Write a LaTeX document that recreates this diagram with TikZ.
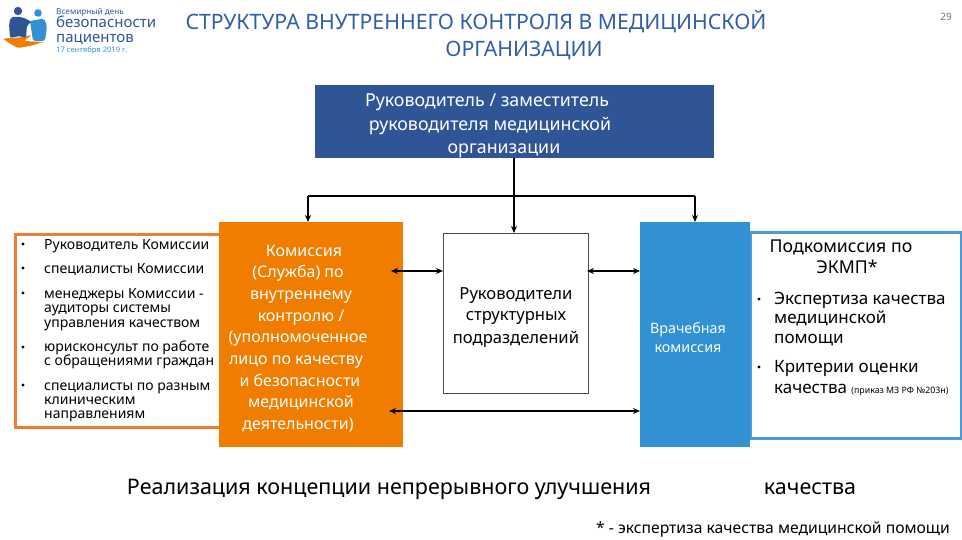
\documentclass[tikz,border=0pt]{standalone}
\usepackage{fontspec}
\setmainfont{Noto Sans}
\usetikzlibrary{arrows.meta}
\definecolor{darkblue}{HTML}{2F5597}
\definecolor{titleblue}{HTML}{2E5FA8}
\definecolor{lightblue}{HTML}{3291D2}
\definecolor{edgeblue}{HTML}{4A9BDC}
\definecolor{mainorange}{HTML}{F07D00}
\definecolor{edgeorange}{HTML}{ED7D31}
\tikzset{
    box/.style={draw=none,inner sep=0pt,anchor=north west},
    line/.style={inner sep=0pt,anchor=mid,yshift=-3pt},
    item/.style={inner sep=0pt,anchor=mid west,yshift=-3pt},
    link/.style={line width=1.2pt,-{Stealth[length=7pt,width=6pt]}},
    twolink/.style={line width=1.2pt,{Stealth[length=7pt,width=6pt]}-{Stealth[length=7pt,width=6pt]}}
}
\newcommand{\fsz}[1]{\fontsize{#1}{#1}\selectfont}
\begin{document}
\begin{tikzpicture}[x=1pt,y=-1pt]
    \useasboundingbox (0,0) rectangle (962,540);

    % logo
    \fill[mainorange,rounded corners=1.5pt] (3,38.5) -- (20,37.5) -- (32,35) -- (24,41) -- (44,42) -- (30,46) -- (18,48) -- (9,43) -- cycle;
    \fill[lightblue] (38,13) circle (3.8);
    \fill[lightblue,rounded corners=2pt] (30,21) -- (44,18.5) -- (47,26) -- (45,41) -- (33,41) -- cycle;
    \fill[darkblue] (18,11) circle (4.2);
    \fill[darkblue,rounded corners=2pt] (11,17) -- (22,17) -- (32,22) -- (27,25) -- (26,38) -- (20,36) -- (10,38) -- (9,24) -- cycle;
    \node[item,text=darkblue] (logoa) at (56,9) {\fsz{8.2}Всемирный день};
    \node[item,text=darkblue] (logob) at (56,22) {\fsz{15}безопасности};
    \node[item,text=darkblue] (logoc) at (56,37) {\fsz{15}пациентов};
    \node[item,text=lightblue] (logod) at (56,47) {\fsz{7.6}17 сентября 2019 г.};

    % title
    \node[line,text=titleblue] (titlea) at (476,24) {\fsz{21.2}СТРУКТУРА ВНУТРЕННЕГО КОНТРОЛЯ В МЕДИЦИНСКОЙ};
    \node[line,text=titleblue] (titleb) at (524,51) {\fsz{21.2}ОРГАНИЗАЦИИ};
    \node[line,text=black!55] (pagenum) at (946,15) {\fsz{10}29};

    % boxes
    \node[box,fill=darkblue,minimum width=399,minimum height=73] (head) at (315,85) {};
    \node[box,draw=black!70,fill=white,minimum width=145,minimum height=160] (units) at (443,233) {};
    \node[box,draw=edgeorange,line width=3pt,fill=white,minimum width=206,minimum height=193] (staff) at (14,233) {};
    \node[box,draw=edgeblue,line width=3pt,fill=white,minimum width=210.5,minimum height=205] (expert) at (749,231.5) {};
    \node[box,fill=mainorange,minimum width=184,minimum height=225] (commission) at (219,222) {};
    \node[box,fill=lightblue,minimum width=110,minimum height=225] (medical) at (640,222) {};

    % connectors
    \coordinate (bus) at (514,196);
    \coordinate (busl) at (308,196);
    \coordinate (busr) at (695,196);
    \coordinate (ua) at (391,271);
    \coordinate (ub) at (587,271);
    \coordinate (uc) at (389,411);
    \draw[line width=1.2pt] (busl) -- (busr);
    \draw[link] (bus |- head.south) -- (bus |- units.north);
    \draw[link] (busl) -- (busl |- commission.north);
    \draw[link] (busr) -- (busr |- medical.north);
    \draw[twolink] (ua) -- (ua -| units.west);
    \draw[twolink] (ub) -- (ub -| medical.west);
    \draw[twolink] (uc) -- (uc -| medical.west);

    % head text
    \node[line,text=white] (heada) at (487,101) {\fsz{17.8}Руководитель / заместитель};
    \node[line,text=white] (headb) at (490,125) {\fsz{17.8}руководителя медицинской};
    \node[line,text=white] (headc) at (504,148) {\fsz{17.8}организации};

    % unit text
    \node[line] (unita) at (516,294) {\fsz{16.6}Руководители};
    \node[line] (unitb) at (516,315) {\fsz{16.6}структурных};
    \node[line] (unitc) at (516,338) {\fsz{16.6}подразделений};

    % commission text
    \foreach \name/\xc/\yc/\txt in {ca/304/251/Комиссия, cb/298/272/(Служба) по, cc/301/294/внутреннему, cd/301/316/{контролю /},
        ce/298/337/(уполномоченное, cf/296/359/лицо по качеству, cg/300/381/и безопасности, ch/301/402/медицинской, ci/298/424/деятельности)}
        \node[line,text=white] (\name) at (\xc,\yc) {\fsz{16}\txt};

    % staff list
    \foreach \name/\yc/\txt in {sa/244/Руководитель Комиссии, sb/268/специалисты Комиссии, sc/293/менеджеры Комиссии -,
        sd/307/аудиторы системы, se/322/управления качеством, sf/346/юрисконсульт по работе, sg/360/с обращениями граждан,
        sh/385/специалисты по разным, si/399/клиническим, sj/413/направлениям}
        \node[item] (\name) at (44,\yc) {\fsz{14}\txt};
    \foreach \yc in {244,268,293,347,385}
        \fill (23,\yc) circle (1.6);

    % medical text
    \node[line,text=white] (meda) at (688,328) {\fsz{14.3}Врачебная};
    \node[line,text=white] (medb) at (688,347) {\fsz{14.3}комиссия};

    % expert text
    \node[line] (expa) at (841,247) {\fsz{17.7}Подкомиссия по};
    \node[line] (expb) at (847,268) {\fsz{17.7}ЭКМП*};
    \node[item] (expc) at (774,299) {\fsz{17}Экспертиза качества};
    \node[item] (expd) at (774,318) {\fsz{17}медицинской};
    \node[item] (expe) at (774,338) {\fsz{17}помощи};
    \node[item] (expf) at (774,367) {\fsz{17}Критерии оценки};
    \node[item] (expg) at (774,388) {\fsz{17}качества \fsz{8.8}(приказ МЗ РФ №203н)};
    \fill (759,299) circle (1.6);
    \fill (759,367) circle (1.6);

    % bottom text
    \node[line] (gola) at (389,489) {\fsz{21.5}Реализация концепции непрерывного улучшения};
    \node[line] (golb) at (810,489) {\fsz{21.5}качества};
    \node[line] (note) at (773,528) {\fsz{15.7}* - экспертиза качества медицинской помощи};
\end{tikzpicture}
\end{document}
